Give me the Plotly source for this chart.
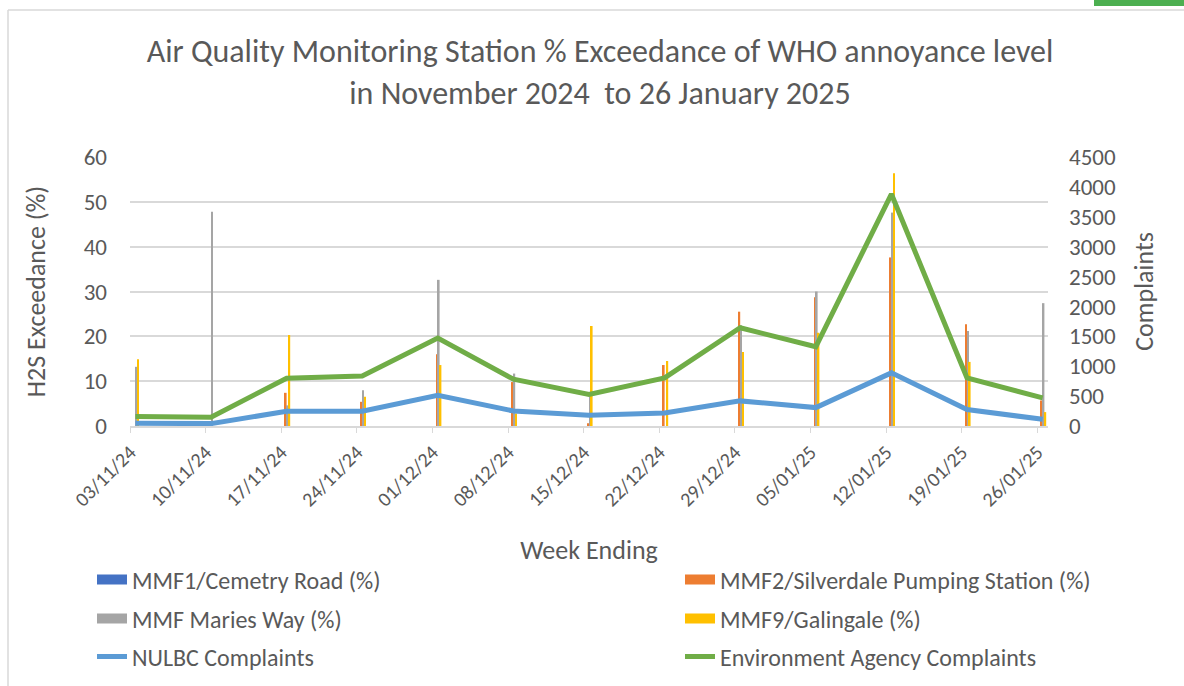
import datetime as _dt
import plotly.graph_objects as go
from plotly.subplots import make_subplots

# ---- data ----
week_ending = ["2024-11-03", "2024-11-10", "2024-11-17", "2024-11-24", "2024-12-01",
               "2024-12-08", "2024-12-15", "2024-12-22", "2024-12-29", "2025-01-05",
               "2025-01-12", "2025-01-19", "2025-01-26"]
tick_labels = ["03/11/24", "10/11/24", "17/11/24", "24/11/24", "01/12/24", "08/12/24",
               "15/12/24", "22/12/24", "29/12/24", "05/01/25", "12/01/25", "19/01/25", "26/01/25"]
mmf1_cemetry = [0, 0, 0, 0, 0, 0, 0, 0, 0, 0, 0, 0, 0]
mmf2_silverdale = [0, 0.5, 7.4, 5.4, 16.0, 9.8, 0.6, 13.6, 25.5, 28.7, 37.6, 22.7, 5.7]
mmf_maries_way = [13.2, 47.8, 4.6, 8.0, 32.6, 11.7, 6.5, 0, 22.5, 30.0, 47.6, 21.2, 27.4]
mmf9_galingale = [14.9, 0, 20.3, 6.5, 13.6, 2.8, 22.3, 14.5, 16.5, 20.8, 56.4, 14.3, 3.1]
nulbc_complaints = [45, 40, 246, 246, 512, 252, 180, 218, 420, 308, 889, 275, 112]
ea_complaints = [160, 148, 800, 838, 1470, 783, 526, 805, 1643, 1325, 3880, 805, 470]

FONT = "Carlito, Lato, sans-serif"
TXT = "#595959"
GRID = "#D9D9D9"

W, H = 1184, 686
L, R, T, B = 130, 1184 - 1048, 157, 686 - 426
pw, ph = W - L - R, H - T - B


def px(x):
    return (x - L) / pw


def py(y):
    return (H - B - y) / ph


fig = make_subplots(specs=[[{"secondary_y": True}]])

bars = [
    ("MMF1/Cemetry Road (%)", mmf1_cemetry, "#4472C4", "legend"),
    ("MMF2/Silverdale Pumping Station (%)", mmf2_silverdale, "#ED7D31", "legend2"),
    ("MMF Maries Way (%)", mmf_maries_way, "#A5A5A5", "legend3"),
    ("MMF9/Galingale (%)", mmf9_galingale, "#FFC000", "legend4"),
]
for name, vals, col, lg in bars:
    fig.add_trace(go.Bar(x=week_ending, y=vals, name=name, marker_color=col,
                         marker_line_width=0, legendgroup=name, showlegend=False),
                  secondary_y=False)
    # legend swatch (Excel-style wide rectangle) linked to the bar series
    fig.add_trace(go.Scatter(x=[None], y=[None], name=name, mode="lines",
                             line=dict(color=col, width=12), legendgroup=name,
                             legend=lg, showlegend=True, hoverinfo="skip"),
                  secondary_y=False)

fig.add_trace(go.Scatter(x=week_ending, y=nulbc_complaints, name="NULBC Complaints",
                         mode="lines", line=dict(color="#5B9BD5", width=5), legend="legend5"),
              secondary_y=True)
fig.add_trace(go.Scatter(x=week_ending, y=ea_complaints, name="Environment Agency Complaints",
                         mode="lines", line=dict(color="#70AD47", width=5), legend="legend6"),
              secondary_y=True)

# ticks at the start of each day slot (Excel date axis style)
tv = [(_dt.datetime.fromisoformat(d) - _dt.timedelta(hours=12)).isoformat() for d in week_ending]

LEG_FONT = dict(family=FONT, size=24, color=TXT)


def leg(xp, yp):
    return dict(orientation="v", font=LEG_FONT, xanchor="left", yanchor="middle",
                bgcolor="rgba(0,0,0,0)", x=px(xp), y=py(yp), itemwidth=30)


col1, col2 = 92, 680
fig.update_layout(
    width=W, height=H,
    margin=dict(l=L, r=R, t=T, b=B, autoexpand=False),
    paper_bgcolor="white", plot_bgcolor="white",
    font=dict(family=FONT, color=TXT),
    showlegend=True,
    barmode="group", bargap=0.905, bargroupgap=0,
    title=dict(text="Air Quality Monitoring Station % Exceedance of WHO annoyance level<br>in November 2024  to 26 January 2025",
               x=px(600), xanchor="center", xref="paper", y=1 - 62 / H, yanchor="middle",
               font=dict(family=FONT, size=32, color=TXT)),
    legend=leg(col1, 580), legend2=leg(col2, 580),
    legend3=leg(col1, 619), legend4=leg(col2, 619),
    legend5=leg(col1, 657), legend6=leg(col2, 657),
    shapes=[
        dict(type="line", xref="paper", yref="paper", x0=px(8), x1=px(1190), y0=py(10), y1=py(10),
             line=dict(color="#D9D9D9", width=1.5)),
        dict(type="line", xref="paper", yref="paper", x0=px(8), x1=px(8), y0=py(10), y1=py(700),
             line=dict(color="#D9D9D9", width=1.5)),
        dict(type="rect", xref="paper", yref="paper", x0=px(1094), x1=px(1190), y0=py(6), y1=py(-5),
             fillcolor="#4CAF50", line=dict(width=0)),
    ],
)

fig.update_xaxes(
    domain=[0, 1],
    type="date", range=["2024-11-02 12:00", "2025-01-26 12:00"],
    tickvals=tv, ticktext=tick_labels, tickangle=-45,
    tickfont=dict(family=FONT, size=20, color=TXT),
    ticks="outside", ticklen=5, tickcolor=GRID,
    showgrid=False, showline=True, linecolor=GRID, linewidth=1.5,
    title=dict(text="Week Ending", font=dict(family=FONT, size=26, color=TXT), standoff=31),
)
fig.update_yaxes(
    range=[0, 60], dtick=10, showgrid=True, gridcolor=GRID, gridwidth=1.5,
    zeroline=False, showline=False, ticks="", ticklabelstandoff=22,
    tickfont=dict(family=FONT, size=23, color=TXT),
    title=dict(text="H2S Exceedance (%)", font=dict(family=FONT, size=26, color=TXT), standoff=30),
    secondary_y=False,
)
fig.update_yaxes(
    range=[0, 4500], dtick=500, showgrid=False, zeroline=False, showline=False, ticks="",
    ticklabelstandoff=20,
    tickfont=dict(family=FONT, size=23, color=TXT),
    title=dict(text="Complaints", font=dict(family=FONT, size=26, color=TXT), standoff=19),
    secondary_y=True,
)

fig.write_html("out.html", config={"displayModeBar": False},
               post_script="document.body.style.margin='0';")
